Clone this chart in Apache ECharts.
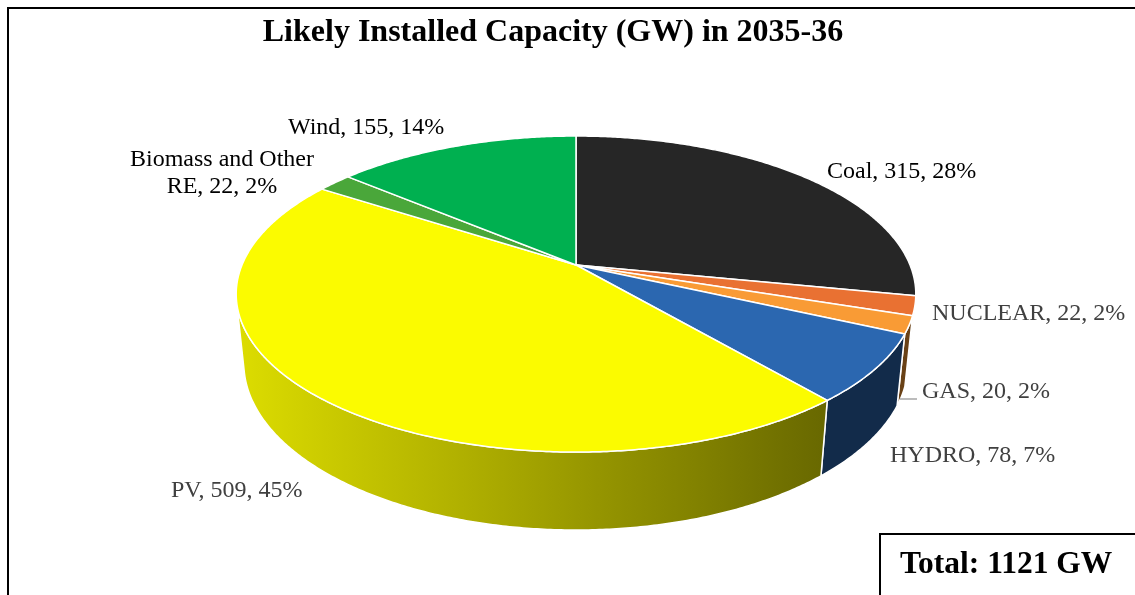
<!DOCTYPE html>
<html>
<head>
<meta charset="utf-8">
<title>Likely Installed Capacity (GW) in 2035-36</title>
<script src="https://cdn.jsdelivr.net/npm/echarts@6/dist/echarts.min.js"></script>
<style>
  html, body { margin: 0; padding: 0; background: #fff; }
  #chart { width: 1135px; height: 595px; }
</style>
</head>
<body>
<div id="chart"></div>
<script>
// Installed capacity by source (GW), clockwise from twelve o'clock
const categories = ['Coal', 'NUCLEAR', 'GAS', 'HYDRO', 'PV', 'Biomass and Other\nRE', 'Wind'];
const capacities = [315, 22, 20, 78, 509, 22, 155];

// Slice colours (top faces); side walls are shaded from these
const sliceColors = ['#262626', '#E97132', '#F99B35', '#2B67B0', '#FBFB00', '#4AA73A', '#00B050'];
const labelColors = ['#000000', '#404040', '#404040', '#404040', '#404040', '#000000', '#000000'];

// Label anchors: [x, y, align], plus an optional leader line
const labelAnchors = [
  [827, 172, 'left'],
  [932, 314, 'left'],
  [922, 392, 'left'],
  [890, 456, 'left'],
  [171, 491, 'left'],
  [222, 173, 'center'],
  [288, 128, 'left']
];
const leaderLines = { 2: [[900, 399], [917, 399]] };

// 3D view of the pie: tilt, camera distance, thickness, screen placement
const TILT = 27.2 * Math.PI / 180;
const DIST = 4.84;
const DEPTH = 0.234;
const SCALE = 334;
const CX = 576, CY = 265;

const total = capacities.reduce((a, b) => a + b, 0);
const cosT = Math.cos(TILT), sinT = Math.sin(TILT);

// theta: clockwise from the back of the pie; r: radius (0..1); h: height (0 top, -DEPTH bottom)
function project(theta, r, h) {
  const x = r * Math.sin(theta);
  const z = -r * Math.cos(theta);
  const yp = h * cosT - z * sinT;
  const zp = h * sinT + z * cosT;
  const k = DIST / (DIST - zp);
  return [CX + SCALE * x * k, CY - SCALE * yp * k];
}

// the outer wall faces the camera where cos(theta) < -1/(DIST*cos(tilt))
const wallLimit = Math.acos(-1 / (DIST * cosT));
const wallMin = wallLimit, wallMax = 2 * Math.PI - wallLimit;

function shade(hex, f) {
  const n = parseInt(hex.slice(1), 16);
  const r = Math.round(((n >> 16) & 255) * f);
  const g = Math.round(((n >> 8) & 255) * f);
  const b = Math.round((n & 255) * f);
  return 'rgb(' + r + ',' + g + ',' + b + ')';
}

function arcPoints(a0, a1, h) {
  const pts = [];
  const steps = Math.max(2, Math.ceil((a1 - a0) / (Math.PI / 360)));
  for (let s = 0; s <= steps; s++) {
    pts.push(project(a0 + (a1 - a0) * s / steps, 1, h));
  }
  return pts;
}

function sliceAngles(i) {
  let before = 0;
  for (let j = 0; j < i; j++) before += capacities[j];
  const a0 = before / total * 2 * Math.PI;
  const a1 = (before + capacities[i]) / total * 2 * Math.PI;
  return [a0, a1];
}

function renderSlice(params, api) {
  const i = params.dataIndex;
  const value = api.value(0);
  const [a0, a1] = sliceAngles(i);
  const color = sliceColors[i];
  const children = [];

  // outer wall (only the part facing the viewer)
  const w0 = Math.max(a0, wallMin), w1 = Math.min(a1, wallMax);
  if (w1 > w0) {
    const topRim = arcPoints(w0, w1, 0);
    const bottomRim = arcPoints(w0, w1, -DEPTH).reverse();
    children.push({
      type: 'polygon',
      z2: 1,
      shape: { points: topRim.concat(bottomRim) },
      style: {
        fill: {
          type: 'linear', global: true,
          x: CX - SCALE * 1.02, y: 0, x2: CX + SCALE * 1.02, y2: 0,
          colorStops: [
            { offset: 0, color: shade(color, 0.88) },
            { offset: 0.48, color: shade(color, 0.62) },
            { offset: 0.86, color: shade(color, 0.42) },
            { offset: 1, color: shade(color, 0.42) }
          ]
        },
        stroke: '#ffffff',
        lineWidth: 1.5,
        lineJoin: 'round'
      }
    });
  }

  // top face
  const top = [project(0, 0, 0)].concat(arcPoints(a0, a1, 0));
  children.push({
    type: 'polygon',
    z2: 10,
    shape: { points: top },
    style: { fill: color, stroke: '#ffffff', lineWidth: 1.5, lineJoin: 'round' }
  });

  // data label: name, value, share
  const pct = Math.round(value / total * 100);
  const anchor = labelAnchors[i];
  children.push({
    type: 'text',
    z2: 20,
    x: anchor[0],
    y: anchor[1],
    style: {
      text: categories[i] + ', ' + value + ', ' + pct + '%',
      fill: labelColors[i],
      font: '24px "Liberation Serif", "Times New Roman", serif',
      align: anchor[2],
      verticalAlign: 'middle',
      lineHeight: 27
    }
  });
  if (leaderLines[i]) {
    const l = leaderLines[i];
    children.push({
      type: 'line',
      z2: 20,
      shape: { x1: l[0][0], y1: l[0][1], x2: l[1][0], y2: l[1][1] },
      style: { stroke: '#A6A6A6', lineWidth: 1.5 }
    });
  }
  return { type: 'group', children: children };
}

const chart = echarts.init(document.getElementById('chart'), null, { renderer: 'canvas' });
chart.setOption({
  animation: false,
  backgroundColor: '#ffffff',
  title: {
    text: 'Likely Installed Capacity (GW) in 2035-36',
    left: 553,
    top: 17,
    textAlign: 'center',
    padding: 0,
    textStyle: {
      fontFamily: '"Liberation Serif", "Times New Roman", serif',
      fontSize: 32,
      fontWeight: 'bold',
      color: '#000000'
    }
  },
  graphic: [
    {
      type: 'rect',
      z: -1,
      shape: { x: 8, y: 8, width: 1200, height: 700 },
      style: { fill: 'none', stroke: '#000000', lineWidth: 2 }
    },
    {
      type: 'rect',
      z: 5,
      shape: { x: 880, y: 534, width: 300, height: 100 },
      style: { fill: '#ffffff', stroke: '#000000', lineWidth: 2 }
    },
    {
      type: 'text',
      z: 6,
      x: 900,
      y: 565,
      style: {
        text: 'Total: ' + total + ' GW',
        fill: '#000000',
        font: 'bold 31.5px "Liberation Serif", "Times New Roman", serif',
        align: 'left',
        verticalAlign: 'middle'
      }
    }
  ],
  series: [{
    type: 'custom',
    coordinateSystem: 'none',
    renderItem: renderSlice,
    data: capacities.map((v, i) => ({ name: categories[i], value: [v] }))
  }]
});
</script>
</body>
</html>
